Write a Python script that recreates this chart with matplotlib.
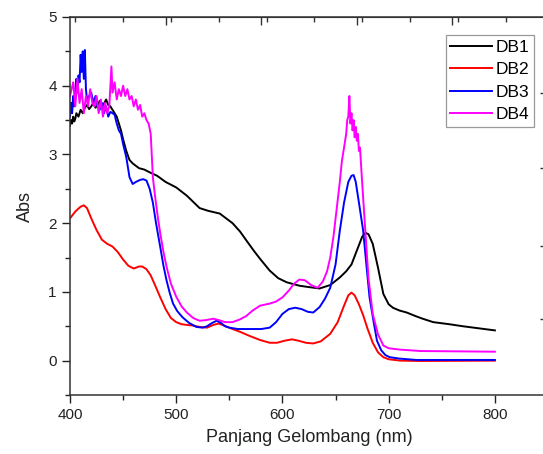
import matplotlib
matplotlib.use("Agg")
import matplotlib.pyplot as plt
from matplotlib.ticker import MultipleLocator

plt.rcParams['font.family'] = ['Liberation Sans', 'DejaVu Sans']

# ---- data ----
x1 = [400,401,402,403,404,405,406,408,410,412,414,416,418,420,422,424,426,428,430,432,434,436,438,440,442,444,446,448,450,
      453,456,459,465,470,475,482,490,500,510,522,530,541,553,560,566,573,579,588,596,604,616,625,635,645,654,660,665,670,
      675,678,681,685,690,695,700,704,710,717,725,732,742,757,770,785,800]
db1 = [3.42,3.5,3.45,3.55,3.48,3.52,3.6,3.55,3.65,3.6,3.68,3.72,3.66,3.7,3.75,3.68,3.72,3.78,3.7,3.74,3.8,3.72,3.7,3.65,3.6,3.55,3.45,3.35,3.22,
       3.05,2.92,2.87,2.8,2.78,2.74,2.69,2.6,2.52,2.4,2.22,2.18,2.14,2.0,1.88,1.75,1.6,1.48,1.31,1.2,1.14,1.09,1.07,1.05,1.1,1.21,1.3,1.4,1.6,
       1.8,1.86,1.84,1.7,1.35,0.97,0.82,0.77,0.73,0.70,0.65,0.61,0.56,0.53,0.5,0.47,0.44]

x2 = [400,405,410,413,416,420,425,430,435,440,445,450,455,460,465,468,472,476,480,485,490,495,500,505,510,516,522,529,535,540,
      545,553,560,569,579,588,595,602,609,615,622,629,636,645,652,658,662,665,668,672,676,680,685,690,695,700,711,730,800]
db2 = [2.07,2.17,2.24,2.26,2.22,2.07,1.9,1.76,1.7,1.66,1.58,1.47,1.38,1.34,1.37,1.37,1.33,1.24,1.1,0.92,0.75,0.62,0.56,0.53,0.52,0.51,0.49,0.48,0.52,0.54,
       0.51,0.46,0.42,0.36,0.3,0.26,0.26,0.29,0.31,0.29,0.26,0.25,0.28,0.39,0.56,0.8,0.95,0.99,0.95,0.82,0.66,0.47,0.26,0.12,0.05,0.02,0.0,-0.005,0.0]

x3 = [400,401,402,403,404,405,406,407,408,409,410,411,412,413,414,415,416,418,420,422,424,426,428,430,432,434,436,438,440,442,444,446,448,450,
      453,456,459,462,466,469,472,475,478,481,485,488,491,494,497,501,506,512,519,525,529,534,538,542,546,550,558,570,580,588,594,600,606,612,
      618,624,629,635,640,645,650,654,658,662,665,667,669,672,676,679,682,686,689,693,697,701,710,726,800]
db3 = [3.55,3.75,3.6,3.85,3.7,3.95,4.1,3.9,4.15,4.05,4.45,4.2,4.5,4.1,4.52,3.95,3.8,3.85,3.9,3.75,3.85,3.7,3.65,3.75,3.6,3.7,3.55,3.62,3.6,3.58,3.45,3.35,3.3,3.15,
       2.96,2.67,2.57,2.6,2.63,2.64,2.62,2.5,2.3,2.0,1.65,1.38,1.16,0.98,0.83,0.72,0.63,0.55,0.49,0.48,0.5,0.55,0.58,0.55,0.5,0.48,0.46,0.46,0.46,0.48,0.56,0.68,0.75,0.77,
       0.75,0.71,0.70,0.78,0.9,1.06,1.4,1.89,2.3,2.6,2.69,2.7,2.6,2.3,1.89,1.4,0.92,0.55,0.29,0.15,0.08,0.05,0.03,0.01,0.01]

x4 = [400,403,405,407,409,411,413,415,417,419,421,423,425,427,429,431,433,435,437,439,440,442,444,446,448,450,452,454,456,458,460,462,464,466,468,470,
      472,474,476,478,480,483,485,488,491,495,500,505,510,516,522,528,535,540,546,553,560,566,572,579,588,594,600,606,611,616,621,627,633,638,642,
      645,648,651,654,656,658,660,661,662,663,664,665,666,667,668,669,670,671,672,673,675,678,681,685,690,695,700,711,730,800]
db4 = [3.85,4.05,3.7,4.1,3.75,3.95,3.6,3.85,3.7,3.95,3.75,3.7,3.85,3.6,3.8,3.55,3.75,3.6,3.7,4.28,3.9,4.05,3.8,3.95,3.85,4.0,3.85,3.95,3.8,3.85,3.7,3.8,3.65,3.72,3.55,3.6,
       3.5,3.45,3.3,2.67,2.4,2.05,1.85,1.58,1.36,1.12,0.93,0.79,0.70,0.62,0.58,0.59,0.61,0.59,0.56,0.56,0.6,0.65,0.73,0.80,0.83,0.86,0.92,1.02,1.12,1.18,1.17,1.1,1.06,1.15,1.3,
       1.5,1.8,2.2,2.6,2.91,3.1,3.3,3.5,3.55,3.85,3.45,3.6,3.35,3.5,3.25,3.4,3.2,3.3,3.05,3.1,2.6,1.89,1.2,0.68,0.38,0.22,0.18,0.16,0.14,0.13]

labels = ['DB1', 'DB2', 'DB3', 'DB4']
colors = ['#000000', '#ff0000', '#0000ff', '#ff00ff']

fig = plt.figure(figsize=(5.43, 4.54), dpi=100)
W, H = 543, 454
ax = fig.add_axes([70 / W, (454 - 395) / H, 478 / W, 378 / H])

for xs, ys, lab, c in zip([x1, x2, x3, x4], [db1, db2, db3, db4], labels, colors):
    ax.plot(xs, ys, color=c, lw=1.4, label=lab)

ax.set_xlim(400, 850)
ax.set_ylim(-0.5, 5)
ax.xaxis.set_minor_locator(MultipleLocator(50))
ax.yaxis.set_major_locator(MultipleLocator(1))
ax.yaxis.set_minor_locator(MultipleLocator(0.5))
ax.set_xticks([400, 500, 600, 700, 800])
ax.tick_params(which='major', direction='out', length=6, width=1, labelsize=11, colors='#222222', labelcolor='#222222')
ax.tick_params(which='minor', direction='out', length=3.5, width=1, colors='#222222')
ax.tick_params(top=False, right=False)
for s in ax.spines.values():
    s.set_color('#333333')
    s.set_linewidth(1.1)

ax.set_xlabel('Panjang Gelombang (nm)', fontsize=13, labelpad=5, color='#222222')
ax.set_ylabel('Abs', fontsize=13, labelpad=10, color='#222222')

# top axis ticks (inward)
top = ax.secondary_xaxis('top')
top.set_xticks([490, 580, 670, 760])
top.xaxis.set_minor_locator(MultipleLocator(45))
top.tick_params(which='major', direction='in', length=6, width=1, labeltop=False, colors='#333333')
top.tick_params(which='minor', direction='in', length=3.5, width=1, colors='#333333')
top.spines['top'].set_color('#333333')

# right axis ticks (inward)
right = ax.secondary_yaxis('right')
right.set_yticks([0.61, 1.67, 2.8, 3.89])
right.tick_params(direction='in', length=6, width=1, labelright=False, colors='#333333')

leg = ax.legend(loc='upper right', bbox_to_anchor=(0.971, 0.952), borderaxespad=0,
                fontsize=12.5, handlelength=2.4, handletextpad=0.25, labelspacing=0.43,
                borderpad=0.25, fancybox=False, framealpha=1, edgecolor='#999999')
leg.get_frame().set_linewidth(0.9)

fig.savefig('out.png', dpi=100)
